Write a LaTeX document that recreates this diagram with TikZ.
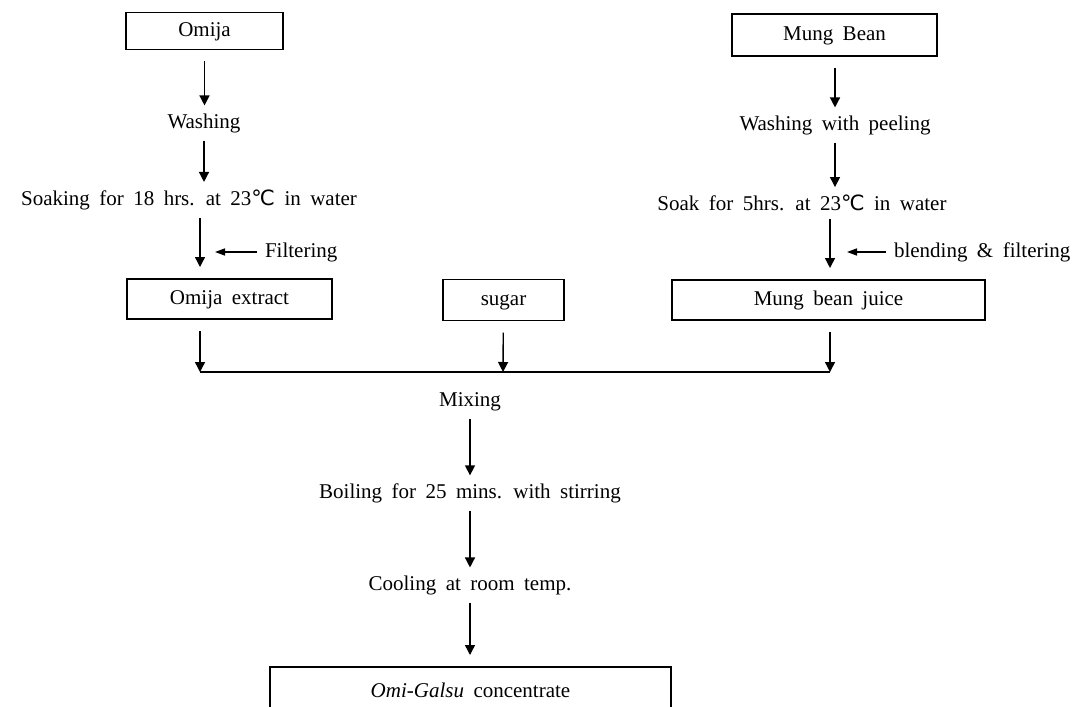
\documentclass[tikz,border=0pt]{standalone}
\usepackage{fontspec}
\setmainfont{Liberation Serif}[WordSpace=1.8]
\newfontfamily\symfont{DejaVu Sans}
\usepackage{tikz}
\usetikzlibrary{arrows.meta,positioning}

\tikzset{
  box/.style={draw, rectangle, line width=0.8pt, inner sep=0pt, outer sep=6pt, text height=7pt, text depth=1.5pt},
  proc/.style={inner sep=0pt, outer sep=4pt},
  flow/.style={-{Triangle[width=5pt,length=5pt]}, line width=0.7pt},
  side/.style={-{Triangle[width=3.5pt,length=5pt]}, line width=0.7pt, shorten >=7.5pt}
}

\begin{document}
\begin{tikzpicture}[x=0.5pt,y=-0.5pt,font=\fontsize{10.5}{12}\selectfont]
    \useasboundingbox (0,0) rectangle (1090,706);

    \node[box,minimum width=78.5pt,minimum height=18.5pt]  (omija)   at (204.5,31)  {Omija};
    \node[box,minimum width=102.5pt,minimum height=21pt]   (mung)    at (834.5,35)  {Mung Bean};
    \node[proc] (wash)   at (204,123)  {Washing};
    \node[proc] (peel)   at (835,125)  {Washing with peeling};
    \node[proc] (soak)   at (189,200)  {Soaking for 18 hrs. at 23{\symfont ℃} in water};
    \node[proc] (soakb)  at (802,203)  {Soak for 5hrs. at 23{\symfont ℃} in water};
    \node[proc,anchor=west] (filt)  at (257,252) {Filtering};
    \node[proc,anchor=west] (blend) at (886,252) {blending \& filtering};
    \node[box,minimum width=102.5pt,minimum height=20pt]   (extract) at (229.5,299) {Omija extract};
    \node[box,minimum width=60.5pt,minimum height=20.5pt]  (sugar)   at (503.5,300) {sugar};
    \node[box,minimum width=156.5pt,minimum height=20pt]   (juice)   at (828.5,300) {Mung bean juice};
    \coordinate (jl) at (200,372);
    \coordinate (jm) at (503,372);
    \coordinate (jr) at (830,372);
    \node[proc] (mix)    at (470,402)  {Mixing};
    \node[proc] (boil)   at (470,493)  {Boiling for 25 mins. with stirring};
    \node[proc] (cool)   at (470,585)  {Cooling at room temp.};
    \node[box,minimum width=200.5pt,minimum height=25pt]   (conc)    at (470.5,692) {\textit{Omi-Galsu} concentrate};

    % left branch
    \draw[flow] (omija) -- (omija |- wash.north);
    \draw[flow] (wash) -- (wash |- soak.north);
    \draw[flow] (jl |- soak.south) -- (jl |- extract.north);
    \draw[side] (filt.west) -- (filt.west -| jl);
    \draw[flow] (jl |- extract.south) -- (jl);

    % right branch
    \draw[flow] (peel |- mung.south) -- (peel);
    \draw[flow] (peel) -- (peel |- soakb.north);
    \draw[flow] (jr |- soakb.south) -- (jr |- juice.north);
    \draw[side, shorten >=8.5pt] (blend.west) -- (blend.west -| jr);
    \draw[flow] (jr |- juice.south) -- (jr);

    \draw[flow] (sugar) -- (jm);
    \draw[line width=0.7pt] (jl) -- (jr);

    \draw[flow] (mix) -- (boil);
    \draw[flow] (boil) -- (cool);
    \draw[flow] (cool) -- (cool |- conc.north);
\end{tikzpicture}
\end{document}
